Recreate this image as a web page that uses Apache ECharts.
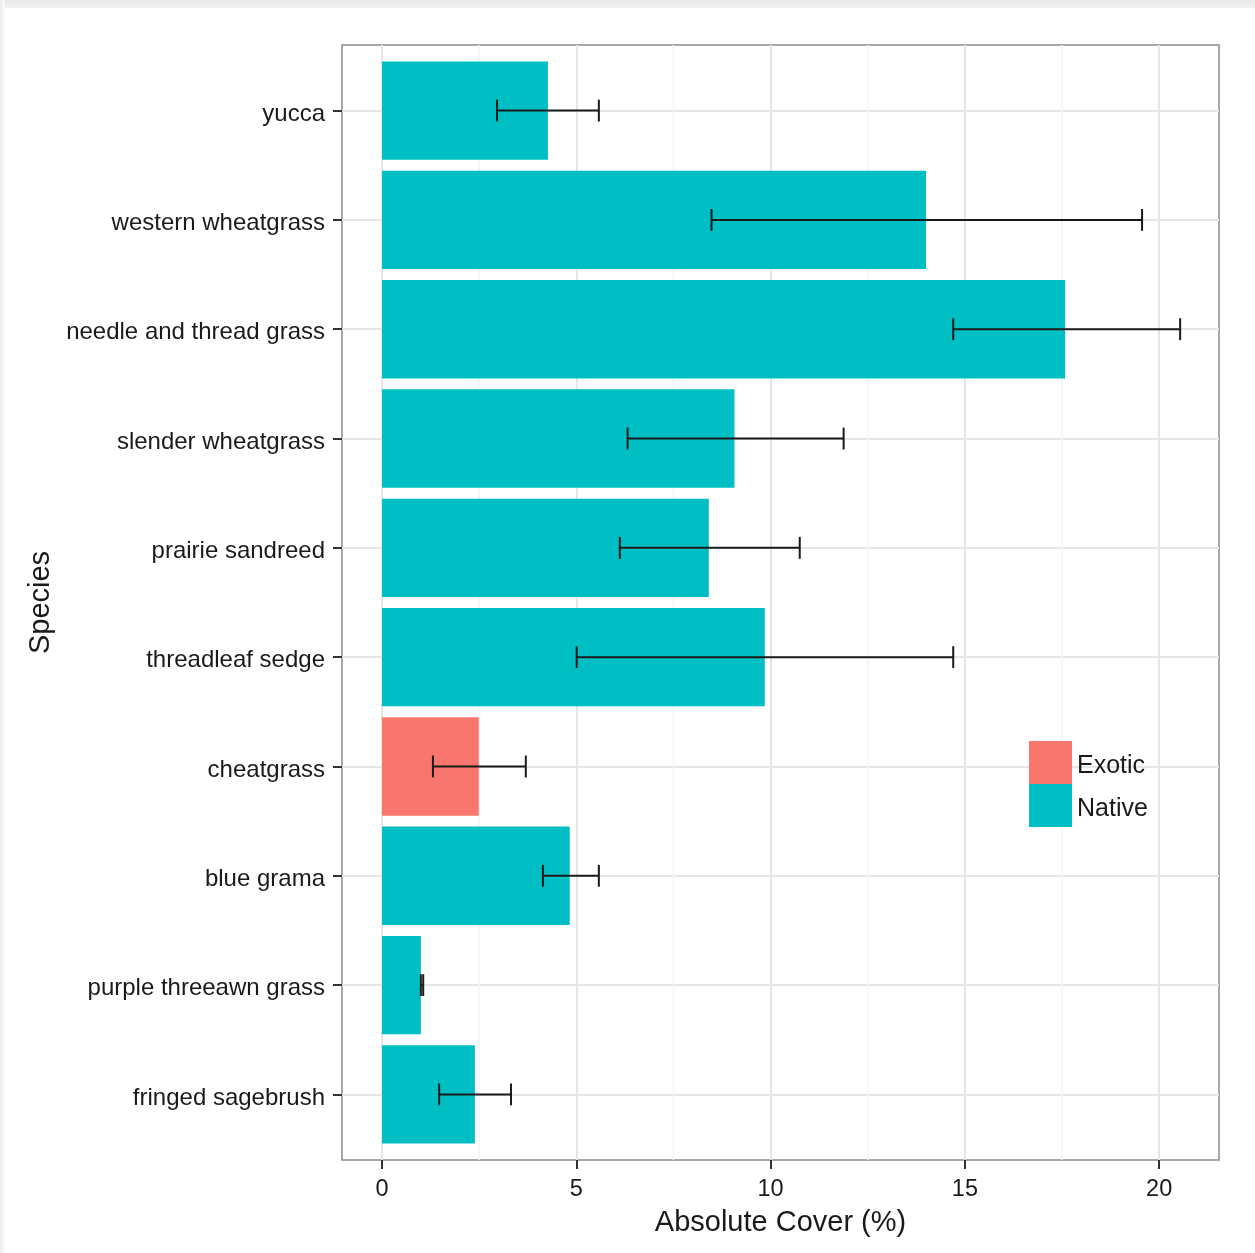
<!DOCTYPE html>
<html><head><meta charset="utf-8">
<script src="https://cdn.jsdelivr.net/npm/echarts@6/dist/echarts.min.js"></script>
<style>html,body{margin:0;padding:0;background:#fff}#c{width:1255px;height:1253px}</style>
</head><body><div id="c"></div>
<script>
const species = ['yucca','western wheatgrass','needle and thread grass','slender wheatgrass','prairie sandreed','threadleaf sedge','cheatgrass','blue grama','purple threeawn grass','fringed sagebrush'];
const cover   = [4.27, 14.0, 17.58, 9.07, 8.41, 9.85, 2.49, 4.83, 1.0, 2.39];
const errLow  = [2.96, 8.48, 14.70, 6.32, 6.12, 5.01, 1.31, 4.14, 1.0, 1.47];
const errHigh = [5.58, 19.56, 20.54, 11.88, 10.75, 14.70, 3.70, 5.58, 1.06, 3.32];
const origin  = ['Native','Native','Native','Native','Native','Native','Exotic','Native','Native','Native'];
const xTicks = [0, 5, 10, 15, 20];
const xMinor = [2.5, 7.5, 12.5, 17.5];
const yIdx = species.map((s, i) => i);

const FONT = 'Liberation Sans, Arial, sans-serif';
const chart = echarts.init(document.getElementById('c'), null, {renderer: 'canvas'});

function barItem(params, api) {
  const v = api.value(0), i = api.value(1);
  const p0 = api.coord([0, i - 0.45]);
  const p1 = api.coord([v, i + 0.45]);
  return {type: 'rect', shape: {x: p0[0], y: Math.min(p0[1], p1[1]), width: p1[0] - p0[0], height: Math.abs(p1[1] - p0[1])},
          style: {fill: api.visual('color')}};
}
function errItem(params, api) {
  const lo = api.value(0), hi = api.value(1), i = api.value(2);
  const a = api.coord([lo, i]), b = api.coord([hi, i]);
  const c1 = api.coord([lo, i - 0.1]), c2 = api.coord([lo, i + 0.1]);
  const st = {stroke: '#1a1a1a', lineWidth: 2};
  return {type: 'group', children: [
    {type: 'line', shape: {x1: a[0], y1: a[1], x2: b[0], y2: b[1]}, style: st},
    {type: 'line', shape: {x1: a[0], y1: c1[1], x2: a[0], y2: c2[1]}, style: st},
    {type: 'line', shape: {x1: b[0], y1: c1[1], x2: b[0], y2: c2[1]}, style: st}
  ]};
}
function minorItem(params, api) {
  const v = api.value(0);
  const a = api.coord([v, -0.6]), b = api.coord([v, 9.6]);
  return {type: 'line', shape: {x1: a[0], y1: a[1], x2: b[0], y2: b[1]}, style: {stroke: '#f4f4f4', lineWidth: 1.5}};
}

const option = {
  animation: false,
  backgroundColor: '#ffffff',
  graphic: [
    {type: 'rect', left: 0, top: 0, shape: {width: 1255, height: 8}, z: 100,
     style: {fill: new echarts.graphic.LinearGradient(0, 0, 0, 1, [{offset: 0, color: '#e8e8e8'}, {offset: 1, color: '#f3f3f3'}])}},
    {type: 'rect', left: 0, top: 0, shape: {width: 5, height: 1253}, z: 100,
     style: {fill: new echarts.graphic.LinearGradient(0, 0, 1, 0, [{offset: 0, color: '#ebebeb'}, {offset: 1, color: '#fbfbfb'}])}}
  ],
  grid: {left: 342, right: 36, top: 45, bottom: 93, show: true, borderColor: '#8c8c8c', borderWidth: 1.5, backgroundColor: 'transparent'},
  legend: {
    data: ['Exotic', 'Native'], orient: 'vertical', left: 1029, top: 741, padding: 0,
    itemWidth: 43, itemHeight: 43, itemGap: 0, icon: 'rect', selectedMode: false,
    formatter: n => '{a|' + n + '}',
    textStyle: {fontFamily: FONT, fontSize: 25, color: '#1a1a1a',
                rich: {a: {fontFamily: FONT, fontSize: 25, color: '#1a1a1a', padding: [8, 0, 0, 0]}}}
  },
  xAxis: {
    type: 'value', min: -1.03, max: 21.54,
    name: 'Absolute Cover (%)', nameLocation: 'middle', nameGap: 48,
    nameTextStyle: {fontFamily: FONT, fontSize: 29, color: '#1a1a1a'},
    axisLine: {show: false, onZero: false},
    axisTick: {show: true, length: 9, lineStyle: {color: '#333', width: 2}, customValues: xTicks},
    axisLabel: {fontFamily: FONT, fontSize: 23.5, color: '#1a1a1a', margin: 18, customValues: xTicks},
    splitLine: {show: true, lineStyle: {color: '#e6e6e6', width: 2}}
  },
  yAxis: {
    type: 'value', min: -0.6, max: 9.6, inverse: true,
    name: 'Species', nameLocation: 'middle', nameGap: 271, nameRotate: 90,
    nameTextStyle: {fontFamily: FONT, fontSize: 29, color: '#1a1a1a'},
    axisLine: {show: false, onZero: false},
    axisTick: {show: true, length: 9, lineStyle: {color: '#333', width: 2}, customValues: yIdx},
    axisLabel: {fontFamily: FONT, fontSize: 24, color: '#1a1a1a', margin: 17, customValues: yIdx,
                formatter: v => '{a|' + (species[Math.round(v)] || '') + '}',
                rich: {a: {fontFamily: FONT, fontSize: 24, color: '#1a1a1a', padding: [7, 0, 0, 0]}}},
    splitLine: {show: true, lineStyle: {color: '#e6e6e6', width: 2}}
  },
  series: [
    {type: 'custom', name: 'minor', silent: true, z: 1, renderItem: minorItem, encode: {x: 0},
     data: xMinor.map(v => [v]), tooltip: {show: false}},
    {type: 'custom', name: 'Exotic', z: 2, itemStyle: {color: '#F8766D'}, renderItem: barItem, encode: {x: 0, y: 1},
     data: yIdx.filter(i => origin[i] === 'Exotic').map(i => [cover[i], i])},
    {type: 'custom', name: 'Native', z: 2, itemStyle: {color: '#00BFC4'}, renderItem: barItem, encode: {x: 0, y: 1},
     data: yIdx.filter(i => origin[i] === 'Native').map(i => [cover[i], i])},
    {type: 'custom', name: 'err', z: 3, silent: true, renderItem: errItem, encode: {x: [0, 1], y: 2},
     data: yIdx.map(i => [errLow[i], errHigh[i], i])}
  ]
};
chart.setOption(option);
</script></body></html>
